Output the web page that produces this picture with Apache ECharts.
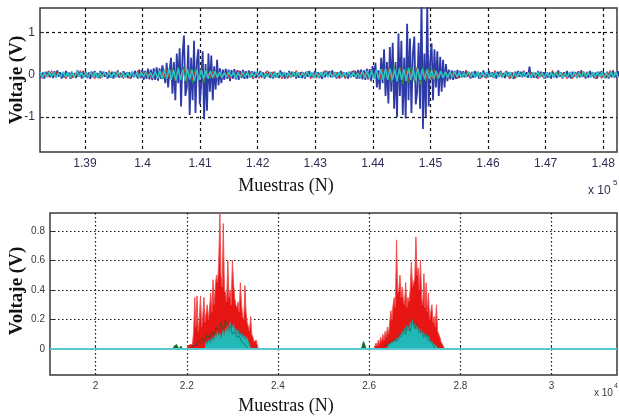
<!DOCTYPE html>
<html><head><meta charset="utf-8">
<script src="https://cdn.jsdelivr.net/npm/echarts@6/dist/echarts.min.js"></script>
<style>html,body{margin:0;padding:0;background:#fff}#c{width:619px;height:418px}</style>
</head><body><div id="c"></div>
<script>
// ---- Upper panel: raw channels, one value every TOP_STEP samples ----
const TOP_START = 138220, TOP_END = 148240;
const TOP_STEP = 25;          // blue channel
const TOP_STEP_C = 40;        // cyan channel
const TOP_STEP_GR = 50;       // green and red channels

const topXTicks = [139000,140000,141000,142000,143000,144000,145000,146000,147000,148000];
const topYTicks = [-1, 0, 1];

const blueVals = [
  .06,-.08,.05,-.09,.07,-.05,.09,-.06,.04,-.08,
  .08,-.06,.1,-.05,.06,-.09,.05,-.07,.09,-.04,
  .05,-.09,.07,-.06,.04,-.08,.1,-.05,.06,-.09,
  .09,-.05,.06,-.08,.05,-.1,.07,-.06,.09,-.05,
  .04,-.08,.09,-.06,.07,-.05,.06,-.09,.05,-.07,
  .07,-.09,.05,-.06,.1,-.07,.04,-.06,.08,-.05,
  .05,-.08,.06,-.09,.07,-.06,.09,
  .1,-.09,.12,-.08,.11,-.12,.09,-.1,.14,-.11,.12,-.13,.15,-.12,.17,-.14,
  .15,-.1,.22,.05,-.2,
  .28,-.3,.1,.4,-.45,
  .3,-.6,.5,-.2,.62,
  -.75,.45,.92,-.5,-.3,
  .7,-.95,.4,-.6,.8,
  -.9,.3,.6,-.7,-.2,
  .55,-1.05,.25,-.85,.5,
  -.4,.45,-.6,.2,-.35,
  .35,-.25,.15,-.2,.12,
  -.12,.14,-.1,.12,-.15,.11,-.09,.13,-.11,.1,-.12,.09,-.08,.11,-.1,.08,-.09,.1,-.07,.08,-.09,.07,-.08,
  .06,-.05,.09,-.07,.05,-.09,.07,-.04,.06,-.08,
  .05,-.09,.07,-.06,.04,-.08,.1,-.05,.06,-.09,
  .04,-.08,.09,-.06,.07,-.05,.06,-.09,.05,-.07,
  .06,-.08,.05,-.09,.07,-.05,.09,-.06,.04,-.08,
  .09,-.05,.06,-.08,.05,-.1,.07,-.06,.09,-.05,
  .08,-.06,.1,-.05,.06,-.09,.05,-.07,.09,-.04,
  .06,-.08,.05,-.09,.07,-.06,.09,-.05,
  .09,-.1,.11,-.09,.12,-.11,.1,-.12,.14,-.11,.13,-.15,
  .2,-.1,.28,-.3,.1,-.35,.4,
  -.2,.6,-.5,.3,-.68,.65,-.4,
  .75,-.8,.3,-1.0,.97,-.5,.8,
  -.95,.4,-1.03,1.2,-.6,.85,-.9,
  .5,.9,-.7,-.4,.75,-.8,1.75,
  -1.28,.5,-1.0,1.65,-.75,.3,.74,
  -.6,.6,-.3,.55,-.5,.42,-.4,
  .35,-.3,.25,-.15,
  .12,-.11,.1,-.12,.09,-.1,.11,-.08,.09,-.07,
  .08,-.06,.1,-.05,.06,-.09,.05,-.07,.09,-.04,
  .07,-.09,.05,-.06,.1,-.07,.04,-.06,.08,-.05,
  .06,-.08,.05,-.09,.07,-.05,.09,-.06,.04,-.08,
  .09,-.05,.06,-.08,.05,-.1,.07,-.06,.09,-.05,
  .07,-.06,.08,-.05,.06,-.07,.19,-.08,.06,-.07,
  .04,-.08,.09,-.06,.07,-.05,.06,-.09,.05,-.07,
  .05,-.09,.07,-.06,.04,-.08,.1,-.05,.06,-.09,
  .06,-.05,.09,-.07,.05,-.09,.07,-.04,.06,-.08,
  .08,-.06,.1,-.05,.06,-.09,.05,-.07,.09,-.04,
  .06,-.08,.05,-.09,.07,-.05,.09,-.06,.04,-.08,
  .07,-.09,.05,-.06,.1,-.07,.04,-.06,.08,-.05
];

const cyanVals = [
  .06,-.07,.05,-.06,.07,-.05,.06,-.07,.04,-.06,
  .07,-.05,.06,-.07,.05,-.06,.08,-.05,.06,-.07,
  .05,-.06,.07,-.05,.06,-.08,.05,-.06,.07,-.05,
  .06,-.07,.06,-.05,.07,-.06,.05,-.07,.06,-.06,
  .07,-.06,.05,-.07,.06,-.05,.07,-.06,.05,-.07,
  .08,-.09,.1,-.11,.12,-.1,.14,-.12,.11,-.13,
  .15,-.12,.12,-.14,.13,-.11,.12,-.15,.11,-.12,
  .11,-.1,.1,-.09,.09,-.08,.08,-.07,.07,-.07,
  .05,-.06,.07,-.05,.06,-.08,.05,-.06,.07,-.05,
  .06,-.07,.05,-.06,.07,-.05,.06,-.07,.04,-.06,
  .07,-.06,.05,-.07,.06,-.05,.07,-.06,.05,-.07,
  .07,-.05,.06,-.07,.05,-.06,.08,-.05,.06,-.07,
  .06,-.07,.06,-.05,.07,-.06,.05,-.07,.06,-.06,
  .06,-.07,.05,-.06,.07,-.05,.06,-.07,.04,-.06,
  .08,-.07,.09,-.09,.1,-.11,.12,-.11,.13,-.12,
  .14,-.12,.15,-.13,.12,-.16,.14,-.12,.13,-.15,
  .16,-.13,.12,-.14,.15,-.12,.13,-.11,.12,-.1,
  .11,-.1,.09,-.09,.08,-.08,.07,-.07,.07,-.06,
  .07,-.05,.06,-.07,.05,-.06,.08,-.05,.06,-.07,
  .06,-.07,.06,-.05,.07,-.06,.05,-.07,.06,-.06,
  .05,-.06,.07,-.05,.06,-.08,.05,-.06,.07,-.05,
  .07,-.06,.05,-.07,.06,-.05,.07,-.06,.05,-.07,
  .06,-.07,.05,-.06,.07,-.05,.06,-.07,.04,-.06,
  .07,-.05,.06,-.07,.05,-.06,.08,-.05,.06,-.07,
  .05,-.06,.07,-.05,.06,-.08,.05,-.06,.07,-.05,
  .06,-.07
];

const greenVals = [
  .03,-.04,.02,-.03,.04,-.03,.03,-.02,.04,-.03,
  .03,-.04,.02,-.03,.04,-.03,.03,-.02,.04,-.03,
  .03,-.04,.02,-.03,.04,-.03,.03,-.02,.04,-.03,
  .03,-.04,.02,-.03,.04,-.03,.03,-.02,.04,-.03,
  .05,-.06,.08,-.1,.12,-.09,.15,-.14,.18,-.12,.2,-.16,.14,-.2,.17,-.13,.15,-.18,.12,-.1,.09,-.08,.06,-.05,.04,
  .03,-.04,.02,-.03,.04,-.03,.03,-.02,.04,-.03,
  .03,-.04,.02,-.03,.04,-.03,.03,-.02,.04,-.03,
  .03,-.04,.02,-.03,.04,-.03,.03,-.02,.04,-.03,
  .03,-.04,.02,-.03,.04,-.03,.03,-.02,.04,-.03,
  .03,-.04,.02,-.03,.04,-.03,.03,-.02,.04,-.03,
  .05,-.07,.1,-.12,.14,-.1,.16,-.18,.2,-.15,.18,-.22,.17,-.2,.22,-.16,.19,-.24,.18,-.15,.16,-.12,.13,-.1,.09,-.07,.06,-.05,.04,
  .03,-.04,.02,-.03,.04,-.03,.03,-.02,.04,-.03,
  .03,-.04,.02,-.03,.04,-.03,.03,-.02,.04,-.03,
  .03,-.04,.02,-.03,.04,-.03,.03,-.02,.04,-.03,
  .03,-.04,.02,-.03,.04,-.03,.03,-.02,.04,-.03,
  .03,-.04,.02,-.03,.04,-.03,.03,-.02,.04,-.03,
  .03,-.04,.02,-.03,.04,-.03,.03
];

const redVals = [
  .04,-.09,.03,-.05,.1,-.04,.07,-.03,.05,-.1,
  .04,-.09,.03,-.05,.1,-.04,.07,-.03,.05,-.1,
  .04,-.09,.03,-.05,.1,-.04,.07,-.03,.05,-.1,
  .04,-.09,.03,-.05,.1,-.04,.07,-.03,.05,-.1,
  .05,-.08,.1,-.07,.12,-.1,.09,-.12,.11,-.08,.13,-.1,.09,-.11,.1,-.08,.12,-.09,.08,-.07,.06,-.08,.05,-.06,.04,
  .04,-.09,.03,-.05,.1,-.04,.07,-.03,.05,-.1,
  .04,-.09,.03,-.05,.1,-.04,.07,-.03,.05,-.1,
  .04,-.09,.03,-.05,.1,-.04,.07,-.03,.05,-.1,
  .04,-.09,.03,-.05,.1,-.04,.07,-.03,.05,-.1,
  .04,-.09,.03,-.05,.1,-.04,.07,-.03,.05,-.1,
  .06,-.05,.09,-.1,.12,-.08,.14,-.11,.1,-.13,.15,-.09,.12,-.14,.1,-.12,.16,-.1,.13,-.11,.09,-.12,.1,-.08,.07,-.06,.05,-.07,.04,
  .04,-.09,.03,-.05,.1,-.04,.07,-.03,.05,-.1,
  .04,-.09,.03,-.05,.1,-.04,.07,-.03,.05,-.1,
  .04,-.09,.03,-.05,.1,-.04,.07,-.03,.05,-.1,
  .04,-.09,.03,-.05,.1,-.04,.07,-.03,.05,-.1,
  .04,-.09,.03,-.05,.1,-.04,.07,-.03,.05,-.1,
  .04,-.09,.03,-.05,.1,-.04,.07
];

// ---- Lower panel: rectified bursts, one value every BOT_STEP samples ----
const BOT_START = 19000, BOT_END = 31435;
const BOT_STEP = 25;
const botXTicks = [20000,22000,24000,26000,28000,30000];
const botYTicks = [0, 0.2, 0.4, 0.6, 0.8];

const redA_start = 22000;
const redA = [
  0,.02,.01,.03,.02,.03,.12,.35,
  .15,.36,.12,.2,.36,.15,.22,.35,.18,.25,.3,.2,
  .28,.38,.25,.47,.3,.42,
  .5,.45,.58,.92,
  .5,.42,.85,.4,
  .38,.32,.6,.35,.4,
  .3,.6,.45,.35,.3,
  .28,.32,.25,.45,.3,.22,
  .2,.43,.25,.18,.15,
  .12,.22,.1,.08,
  .05,.04,.06,.02,
  0,0
];
const redB_start = 26100;
const redB = [
  0,0,
  .04,.02,.06,.03,.08,.05,
  .1,.06,.12,.08,.15,.1,.18,.26,
  .2,.3,.35,.28,.74,
  .38,.4,.5,.35,.42,.33,
  .3,.45,.28,.35,.32,.4,
  .59,.42,.45,
  .48,.76,.5,.55,.4,
  .6,.35,.3,.51,.28,.45,
  .25,.38,.2,.25,.3,.18,
  .22,.15,.3,.12,.1,.08,
  .05,.04,.02,0
];
const cyanA_start = 22400;
const cyanA = [
  .02,.05,.03,.06,.04,
  .07,.05,.08,.06,.1,
  .08,.12,.09,.11,.07,
  .1,.13,.09,.14,.12,
  .16,.11,.18,.13,.15,
  .17,.12,.14,.1,.13,
  .09,.11,.08,.1,.07,
  .09,.06,.08,.05,.03,0
];
const cyanB_start = 26400;
const cyanB = [
  .01,.03,.02,.04,.03,
  .05,.04,.06,.05,.08,
  .06,.1,.08,.12,.1,
  .14,.11,.16,.13,.15,
  .18,.14,.2,.15,.17,
  .13,.16,.12,.14,.1,
  .13,.09,.11,.08,.1,
  .07,.09,.06,.07,.05,
  .04,.03,.03,.02,0
];
const GREEN_STEP = 50;
const greenA_start = 22100;
const greenA = [.01,.03,.02,.06,.04,.08,.05,.1,.07,.12,.09,.15,.1,.18,.12,.2,.14,.16,.1,.12,.08,.09,.05,.04,.02,0];
const greenB_start = 26300;
const greenB = [.01,.03,.02,.05,.04,.07,.05,.1,.08,.13,.1,.16,.12,.2,.14,.17,.11,.13,.08,.1,.06,.05,.03,0];
const greenDotsA_start = 21700;
const greenDotsA = [0,.02,.01,.03,.02,0,.01,.02,0];
const greenDotsB_start = 25825;
const greenDotsB = [0,.02,.05,.045,.01,0];
const baseline = [0, 0];

// ---- helpers ----
const seq = (start, step, vals) => vals.map((v, i) => [start + i * step, v]);
const SANS = 'Liberation Sans, Arial, sans-serif';
const SERIF = 'Liberation Serif, Times New Roman, serif';

function line(name, xi, data, color, width, extra) {
  return Object.assign({
    name, type: 'line', xAxisIndex: xi, yAxisIndex: xi, data,
    showSymbol: false, symbol: 'none', silent: true, animation: false,
    lineStyle: { color, width }, z: 2
  }, extra || {});
}

const tickStyle = { show: true, inside: true, length: 4, lineStyle: { color: '#333', width: 1 } };

function xAxisDef(gi, min, max, ticks, fmt, color, size, dash) {
  return {
    type: 'value', gridIndex: gi, min, max, axisLine: { show: false },
    axisTick: Object.assign({}, tickStyle, { customValues: ticks }),
    axisLabel: { customValues: ticks, margin: 6, color, fontSize: size, fontFamily: SANS, formatter: fmt },
    splitLine: { show: true, lineStyle: { color: '#111', width: 1.2, type: dash } }
  };
}
function yAxisDef(gi, min, max, ticks, color, size, dash) {
  return {
    type: 'value', gridIndex: gi, min, max, axisLine: { show: false },
    axisTick: Object.assign({}, tickStyle, { customValues: ticks }),
    axisLabel: { customValues: ticks, margin: 5, color, fontSize: size, fontFamily: SANS, formatter: v => String(v) },
    splitLine: { show: true, lineStyle: { color: '#111', width: 1.2, type: dash } }
  };
}

function title(text, x, y, font, rotated) {
  return { type: 'text', x, y, rotation: rotated ? Math.PI / 2 : 0,
    style: { text, font, fill: '#111', align: 'center', verticalAlign: 'middle' } };
}

const chart = echarts.init(document.getElementById('c'), null, { renderer: 'canvas' });
chart.setOption({
  animation: false,
  backgroundColor: '#fff',
  grid: [
    { left: 40, top: 8, width: 577, height: 144, show: true, borderColor: '#3a3a3a', borderWidth: 1.5, backgroundColor: 'transparent' },
    { left: 50, top: 213, width: 567, height: 162, show: true, borderColor: '#3a3a3a', borderWidth: 1.5, backgroundColor: 'transparent' }
  ],
  xAxis: [
    xAxisDef(0, TOP_START, TOP_END, topXTicks, v => String(parseFloat((v / 1e5).toFixed(2))), '#2d2d55', 12, [3, 3]),
    xAxisDef(1, BOT_START, BOT_END, botXTicks, v => String(parseFloat((v / 1e4).toFixed(1))), '#3a3a3a', 10, [1.5, 2.5])
  ],
  yAxis: [
    yAxisDef(0, -1.82, 1.57, topYTicks, '#2d2d55', 12, [3, 3]),
    yAxisDef(1, -0.176, 0.922, botYTicks, '#3a3a3a', 10, [1.5, 2.5])
  ],
  series: [
    // upper panel
    line('azul', 0, seq(TOP_START, TOP_STEP, blueVals), '#2e3aa6', 1.8),
    line('verde', 0, seq(TOP_START, TOP_STEP_GR, greenVals), '#1c9a3c', 1),
    line('rojo', 0, seq(TOP_START, TOP_STEP_GR, redVals), '#e02828', 1),
    line('cian', 0, seq(TOP_START, TOP_STEP_C, cyanVals), '#2ac6c6', 1.5),
    // lower panel
    line('rojoA', 1, seq(redA_start, BOT_STEP, redA), '#f05050', 1, { areaStyle: { color: '#e81515', opacity: 1 } }),
    line('rojoB', 1, seq(redB_start, BOT_STEP, redB), '#f05050', 1, { areaStyle: { color: '#e81515', opacity: 1 } }),
    line('verdeA', 1, seq(greenA_start, GREEN_STEP, greenA), '#145a28', 0.8, { lineStyle: { color: '#145a28', width: 0.8, opacity: 0.8 } }),
    line('verdeB', 1, seq(greenB_start, GREEN_STEP, greenB), '#145a28', 0.8, { lineStyle: { color: '#145a28', width: 0.8, opacity: 0.8 } }),
    line('verdeC', 1, seq(greenDotsA_start, BOT_STEP, greenDotsA), '#136b2a', 1, { areaStyle: { color: '#136b2a', opacity: 1 } }),
    line('verdeD', 1, seq(greenDotsB_start, BOT_STEP, greenDotsB), '#136b2a', 1, { areaStyle: { color: '#136b2a', opacity: 1 } }),
    line('cianA', 1, seq(cyanA_start, BOT_STEP, cyanA), '#2a9a9a', 0.8, { areaStyle: { color: '#22b8b8', opacity: 1 } }),
    line('cianB', 1, seq(cyanB_start, BOT_STEP, cyanB), '#2a9a9a', 0.8, { areaStyle: { color: '#22b8b8', opacity: 1 } }),
    line('base', 1, [[BOT_START, baseline[0]], [BOT_END, baseline[1]]], '#58c8d0', 2, { z: 3 })
  ],
  graphic: [
    title('Voltaje (V)', 17, 80, 'bold 19px ' + SERIF, true),
    title('Voltaje (V)', 17, 291, 'bold 19px ' + SERIF, true),
    title('Muestras (N)', 286, 186, '18px ' + SERIF, false),
    title('Muestras (N)', 286, 406, '18px ' + SERIF, false),
    { type: 'text', x: 588, y: 191, style: { text: 'x 10', font: '12px ' + SANS, fill: '#2d2d55', align: 'left', verticalAlign: 'middle' } },
    { type: 'text', x: 613, y: 183, style: { text: '5', font: '8px ' + SANS, fill: '#2d2d55', align: 'left', verticalAlign: 'middle' } },
    { type: 'text', x: 594, y: 393, style: { text: 'x 10', font: '10px ' + SANS, fill: '#3a3a3a', align: 'left', verticalAlign: 'middle' } },
    { type: 'text', x: 614, y: 386, style: { text: '4', font: '7px ' + SANS, fill: '#3a3a3a', align: 'left', verticalAlign: 'middle' } }
  ]
});
</script></body></html>
